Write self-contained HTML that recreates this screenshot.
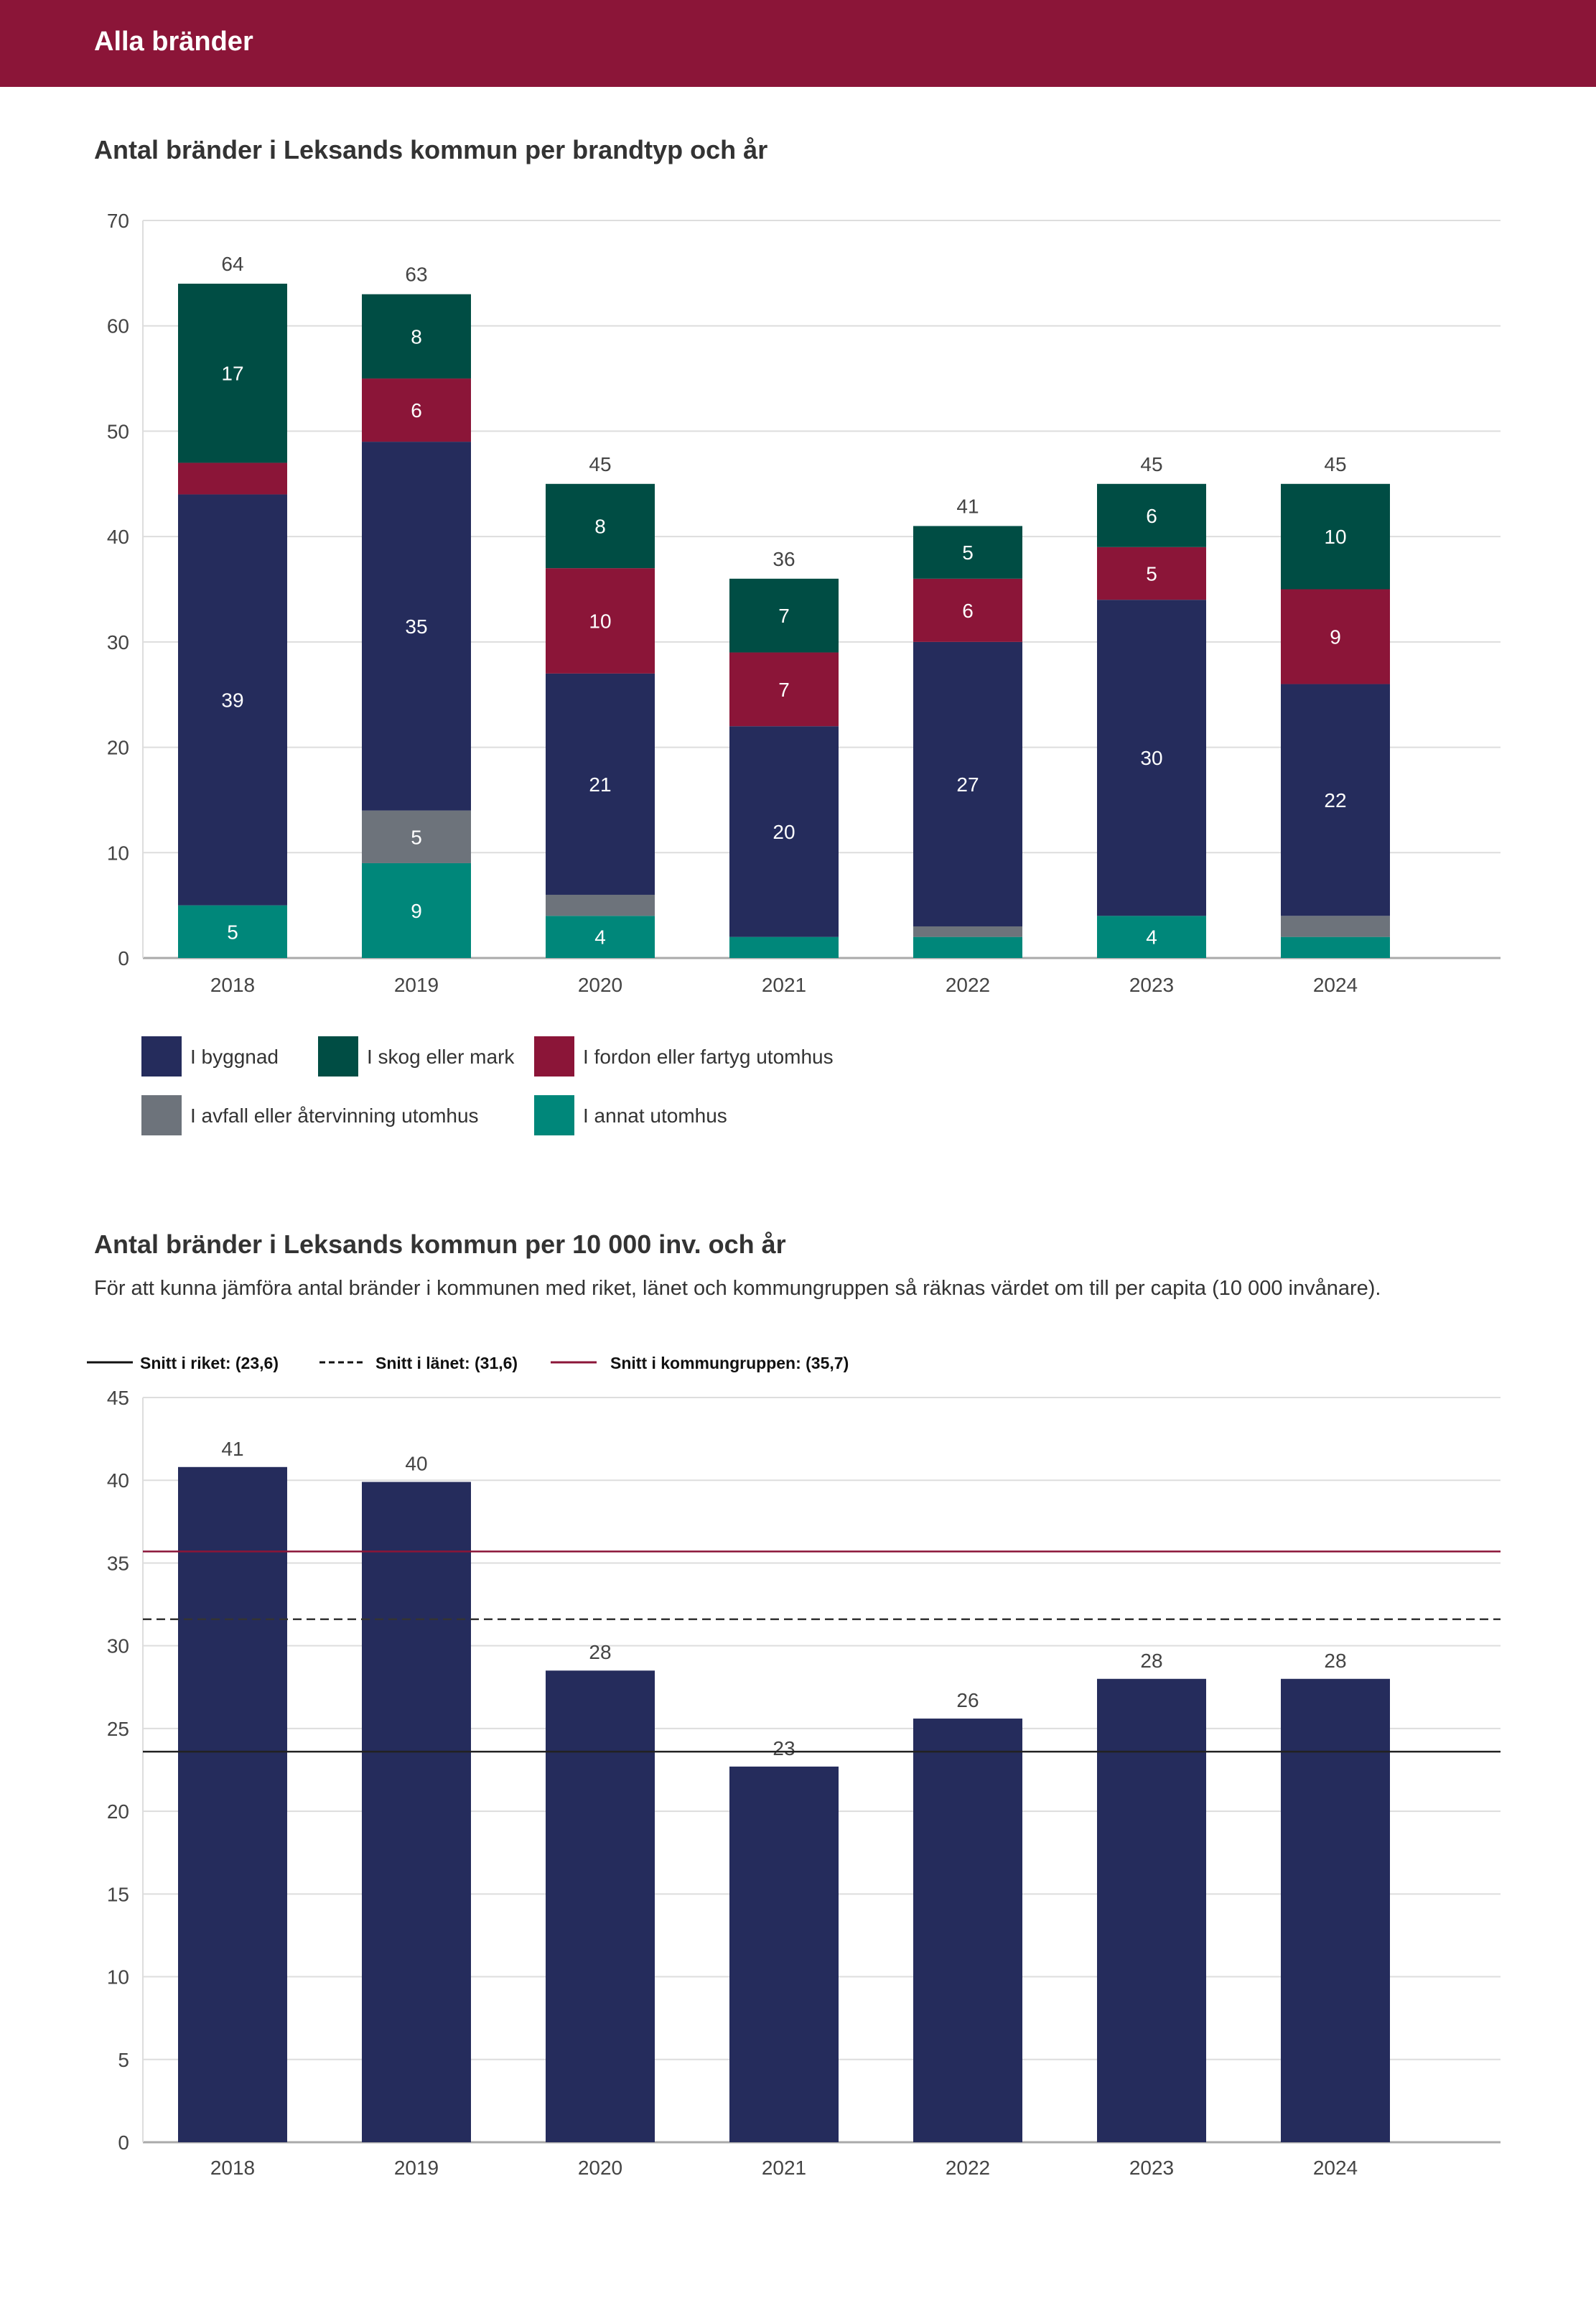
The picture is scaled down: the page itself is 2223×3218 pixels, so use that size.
<!DOCTYPE html>
<html><head><meta charset="utf-8">
<style>
html,body{margin:0;padding:0;background:#fff;}
body{width:2223px;height:3213px;overflow:hidden;font-family:"Liberation Sans",sans-serif;}
svg text{font-family:"Liberation Sans",sans-serif;}
</style></head>
<body>
<svg id="root" width="2223" height="3213" viewBox="0 0 2223 3213" xmlns="http://www.w3.org/2000/svg">
<rect x="0" y="0" width="2223" height="121" fill="#8B1538"/>
<text x="131" y="70" font-size="38" font-weight="bold" fill="#fff">Alla bränder</text>
<text x="131" y="221" font-size="36" font-weight="bold" fill="#333">Antal bränder i Leksands kommun per brandtyp och år</text>
<g id="c1"></g>
<text x="131" y="1745" font-size="36" font-weight="bold" fill="#333">Antal bränder i Leksands kommun per 10 000 inv. och år</text>
<text x="131" y="1803" font-size="29" fill="#333">För att kunna jämföra antal bränder i kommunen med riket, länet och kommungruppen så räknas värdet om till per capita (10 000 invånare).</text>
<g id="c2"></g>
</svg>
<script>
const years = ["2018","2019","2020","2021","2022","2023","2024"];
const annat   = [5,9,4,2,2,4,2];
const avfall  = [0,5,2,0,1,0,2];
const byggnad = [39,35,21,20,27,30,22];
const fordon  = [3,6,10,7,6,5,9];
const skog    = [17,8,8,7,5,6,10];
const ticks1 = [0,10,20,30,40,50,60,70];
const perCapita = [40.8,39.9,28.5,22.7,25.6,28,28];
const perCapitaLabels = ["41","40","28","23","26","28","28"];
const ticks2 = [0,5,10,15,20,25,30,35,40,45];
const avgRiket = 23.6, avgLanet = 31.6, avgGrupp = 35.7;

const NS="http://www.w3.org/2000/svg";
function mk(parent,tag,attrs,text){const e=document.createElementNS(NS,tag);for(const k in attrs)e.setAttribute(k,attrs[k]);if(text!==undefined)e.textContent=text;parent.appendChild(e);return e;}

const x0=199,x1=2090,step=256,first=324,bw=152;
const xc=i=>first+i*step;

// chart 1
(function(){
const g=document.getElementById('c1');
const top=307,bot=1334,max=70;
const y=v=>bot-(v/max)*(bot-top);
ticks1.forEach(t=>{
 const l=mk(g,'line',{x1:x0,x2:x1,y1:y(t),y2:y(t),stroke:t===0?'#aaa':'#ddd','stroke-width':t===0?3:2});
 
 
 const tx=mk(g,'text',{x:180,y:y(t)+10,'font-size':28,fill:'#444','text-anchor':'end'},String(t));
 
 
});
const ax=mk(g,'line',{x1:x0,x2:x0,y1:top,y2:bot,stroke:'#ddd','stroke-width':2});


const series=[["annat",annat,"#00877A"],["avfall",avfall,"#6D737B"],["byggnad",byggnad,"#252C5C"],["fordon",fordon,"#8B1538"],["skog",skog,"#004D44"]];
years.forEach((yr,i)=>{
 let acc=0;
 series.forEach(([n,arr,c])=>{
  const v=arr[i]; if(v<=0)return;
  const r=mk(g,'rect',{x:xc(i)-bw/2,y:y(acc+v),width:bw,height:y(acc)-y(acc+v),fill:c});
  
  
  if(v>=4){const t=mk(g,'text',{x:xc(i),y:(y(acc)+y(acc+v))/2+10,'font-size':28,fill:'#fff','text-anchor':'middle'},String(v));
   
   }
  acc+=v;
 });
 const tt=mk(g,'text',{x:xc(i),y:y(acc)-18,'font-size':28,fill:'#444','text-anchor':'middle'},String(acc));
 
 
 const xl=mk(g,'text',{x:xc(i),y:1381,'font-size':28,fill:'#444','text-anchor':'middle'},yr);
 
 
});
const leg=[["I byggnad","#252C5C",197,1443],["I skog eller mark","#004D44",443,1443],["I fordon eller fartyg utomhus","#8B1538",744,1443],["I avfall eller återvinning utomhus","#6D737B",197,1525],["I annat utomhus","#00877A",744,1525]];
leg.forEach(([lab,c,lx,ly])=>{
 const s=mk(g,'rect',{x:lx,y:ly,width:56,height:56,fill:c});
 
 
 const t=mk(g,'text',{x:lx+68,y:ly+38,'font-size':28,fill:'#333'},lab);
 
 
});
})();

// chart 2
(function(){
const g=document.getElementById('c2');
const top=1946,bot=2983,max=45;
const y=v=>bot-(v/max)*(bot-top);
// legend
const L=[[121,"Snitt i riket: (23,6)","#111",null,195],[445,"Snitt i länet: (31,6)","#111","8,5",523],[767,"Snitt i kommungruppen: (35,7)","#8B1538",null,850]];
L.forEach(([lx,lab,c,d,tx])=>{
 const a={x1:lx,x2:lx+64,y1:1897,y2:1897,stroke:c,'stroke-width':3};if(d)a['stroke-dasharray']=d;
 const l=mk(g,'line',a);
 
 
 const t=mk(g,'text',{x:tx,y:1906,'font-size':23,'font-weight':'bold',fill:'#111'},lab);
 
 
});
ticks2.forEach(t=>{
 const l=mk(g,'line',{x1:x0,x2:x1,y1:y(t),y2:y(t),stroke:t===0?'#aaa':'#ddd','stroke-width':t===0?3:2});
 
 
 const tx=mk(g,'text',{x:180,y:y(t)+10,'font-size':28,fill:'#444','text-anchor':'end'},String(t));
 
 
});
const ax=mk(g,'line',{x1:x0,x2:x0,y1:top,y2:bot,stroke:'#ddd','stroke-width':2});


years.forEach((yr,i)=>{
 const v=perCapita[i];
 const r=mk(g,'rect',{x:xc(i)-bw/2,y:y(v),width:bw,height:bot-y(v),fill:'#252C5C'});
 
 
 const t=mk(g,'text',{x:xc(i),y:y(v)-16,'font-size':28,fill:'#444','text-anchor':'middle'},perCapitaLabels[i]);
 
 
 const xl=mk(g,'text',{x:xc(i),y:3028,'font-size':28,fill:'#444','text-anchor':'middle'},yr);
 
 
});
const avgs=[[avgGrupp,"#8B1538",null,"avg-kommungrupp-line"],[avgLanet,"#333","12,7","avg-lanet-line"],[avgRiket,"#222",null,"avg-riket-line"]];
avgs.forEach(([v,c,d,n])=>{
 const a={x1:x0,x2:x1,y1:y(v),y2:y(v),stroke:c,'stroke-width':2.5};if(d)a['stroke-dasharray']=d;
 const l=mk(g,'line',a);
 
 
});
})();
</script>
</body></html>
